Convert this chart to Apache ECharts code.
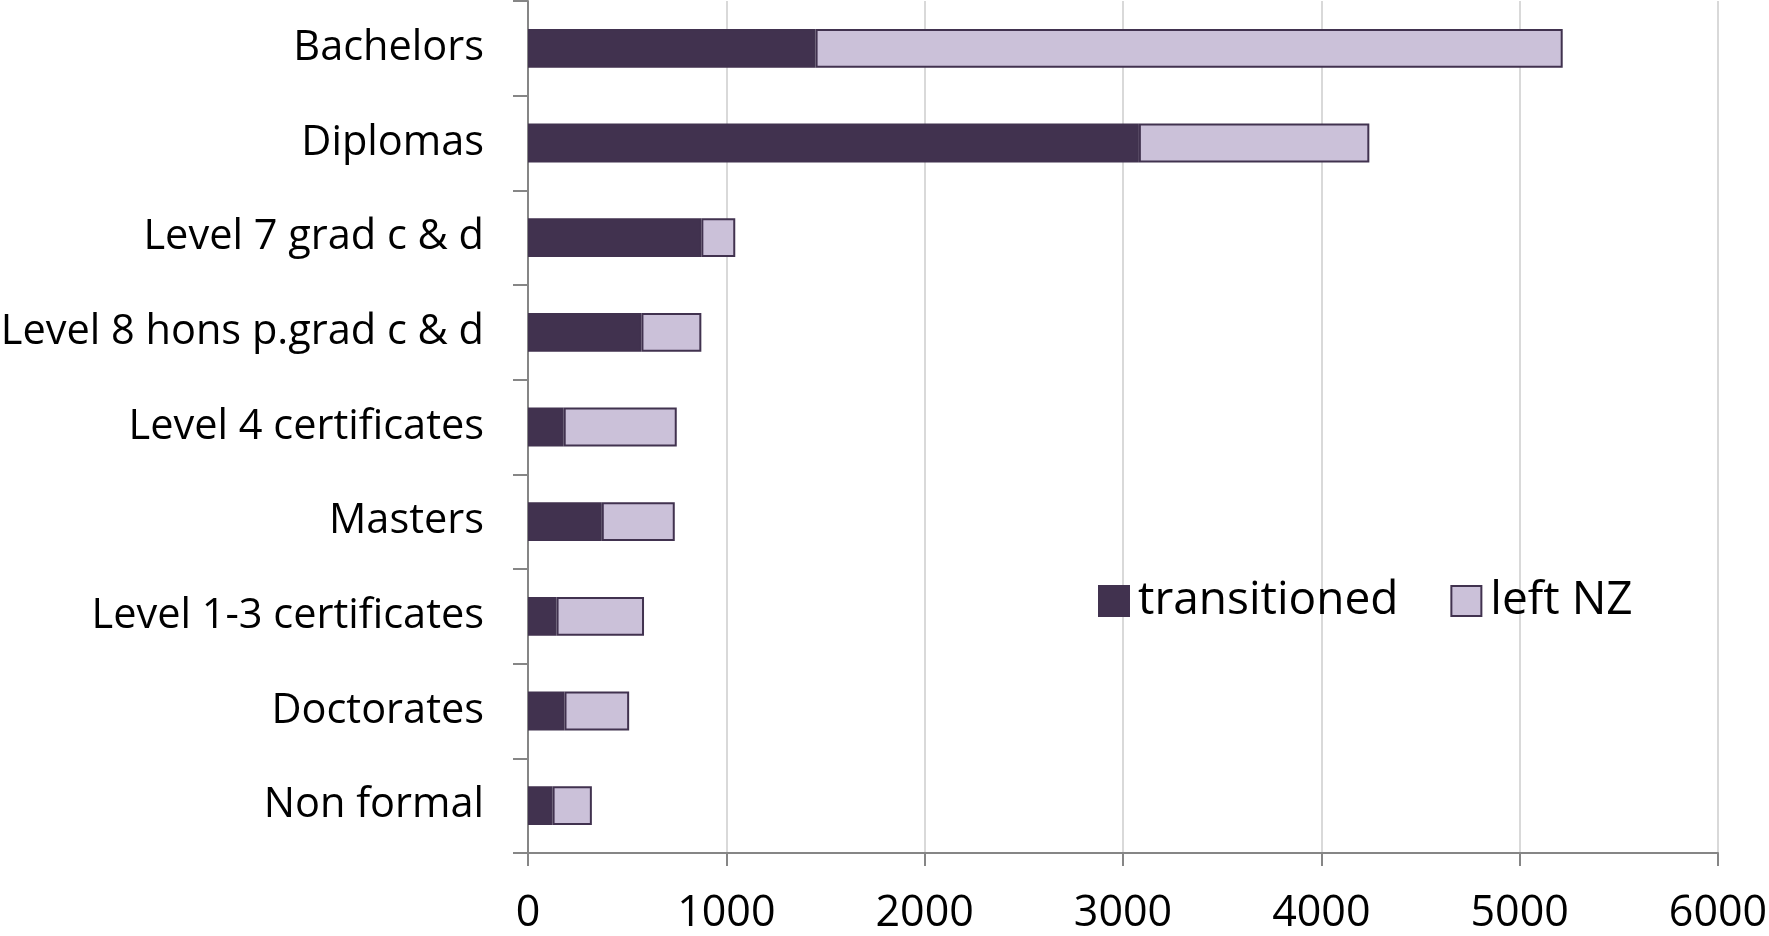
<!DOCTYPE html>
<html>
<head>
<meta charset="utf-8">
<script src="https://cdn.jsdelivr.net/npm/echarts@6/dist/echarts.min.js"></script>
<style>html,body{margin:0;padding:0;background:#fff;}#c{width:1769px;height:936px;}</style>
</head>
<body>
<div id="c"></div>
<script>
const categories = ["Bachelors", "Diplomas", "Level 7 grad c & d", "Level 8 hons p.grad c & d", "Level 4 certificates", "Masters", "Level 1-3 certificates", "Doctorates", "Non formal"];
const transitioned = [1450, 3080, 874, 572, 180, 372, 144, 184, 124];
const leftNZ = [3767, 1162, 171, 302, 570, 368, 441, 326, 198];
const xTicks = [0, 1000, 2000, 3000, 4000, 5000, 6000];

const FONT = '"Open Sans", sans-serif';
const chart = echarts.init(document.getElementById('c'), null, {renderer: 'canvas'});
chart.setOption({
  animation: false,
  backgroundColor: '#ffffff',
  textStyle: {fontFamily: FONT},
  grid: {left: 528, right: 51, top: 1, bottom: 83, containLabel: false, outerBoundsMode: 'none'},
  legend: {
    left: 1093, top: 573,
    itemWidth: 30, itemHeight: 30, itemGap: 52,
    icon: 'rect',
    textStyle: {fontSize: 46, color: '#000', fontFamily: FONT, padding: [0, 0, 0, 4]},
    data: ['transitioned', 'left NZ']
  },
  xAxis: {
    type: 'value', min: xTicks[0], max: xTicks[xTicks.length - 1], interval: 1000,
    axisLine: {show: true, lineStyle: {color: '#868686', width: 2}},
    axisTick: {show: true, length: 13, lineStyle: {color: '#868686', width: 2}},
    axisLabel: {fontSize: 43, color: '#000', margin: 39, fontFamily: FONT, formatter: function (v) { return String(v); }},
    splitLine: {show: true, lineStyle: {color: '#d9d9d9', width: 2}}
  },
  yAxis: {
    type: 'category', data: categories, inverse: true,
    axisLine: {show: true, lineStyle: {color: '#868686', width: 2}},
    axisTick: {show: true, length: 15, alignWithLabel: false, lineStyle: {color: '#868686', width: 2}},
    axisLabel: {fontSize: 41.5, color: '#000', margin: 44, fontFamily: FONT},
    splitLine: {show: false}
  },
  series: [
    {
      name: 'transitioned', type: 'bar', stack: 'a', data: transitioned,
      barCategoryGap: '59%',
      itemStyle: {color: '#41324f', borderColor: '#41324f', borderWidth: 1.5}
    },
    {
      name: 'left NZ', type: 'bar', stack: 'a', data: leftNZ,
      barCategoryGap: '59%',
      itemStyle: {color: '#cbc1d9', borderColor: '#41324f', borderWidth: 2}
    }
  ]
});
</script>
</body>
</html>
